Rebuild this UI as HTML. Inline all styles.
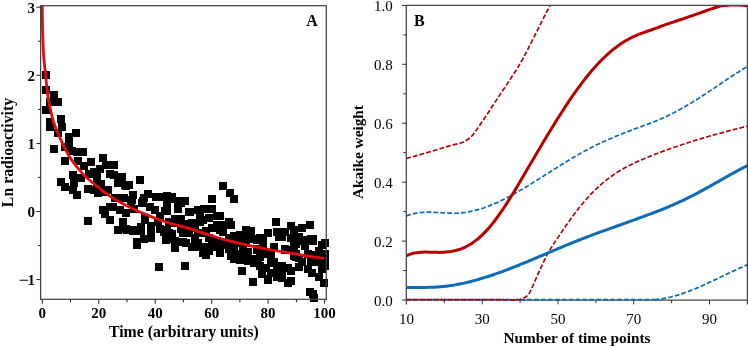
<!DOCTYPE html>
<html><head><meta charset="utf-8"><title>Figure</title><style>html,body{margin:0;padding:0;background:#fff}svg{display:block;will-change:transform}</style></head><body>
<svg width="748" height="347" viewBox="0 0 748 347" font-family="'Liberation Serif', serif">
<rect width="748" height="347" fill="#fff"/>
<g fill="#000" shape-rendering="crispEdges">
<rect x="307.8" y="268.8" width="8" height="8"/>
<rect x="314.7" y="273.1" width="8" height="8"/>
<rect x="319.9" y="279.2" width="8" height="8"/>
<rect x="89.5" y="186.0" width="8" height="8"/>
<rect x="100.0" y="188.0" width="8" height="8"/>
<rect x="109.0" y="203.0" width="8" height="8"/>
<rect x="101.0" y="210.0" width="8" height="8"/>
<rect x="89.5" y="167.5" width="8" height="8"/>
<rect x="97.0" y="180.0" width="8" height="8"/>
<rect x="254.0" y="258.0" width="8" height="8"/>
<rect x="262.0" y="264.0" width="8" height="8"/>
<rect x="270.0" y="258.0" width="8" height="8"/>
<rect x="278.0" y="266.0" width="8" height="8"/>
<rect x="258.0" y="270.0" width="8" height="8"/>
<rect x="42.3" y="71.4" width="8" height="8"/>
<rect x="42.3" y="86.2" width="8" height="8"/>
<rect x="50.0" y="90.8" width="8" height="8"/>
<rect x="53.6" y="98.0" width="8" height="8"/>
<rect x="46.0" y="98.0" width="8" height="8"/>
<rect x="42.2" y="105.8" width="8" height="8"/>
<rect x="57.2" y="114.7" width="8" height="8"/>
<rect x="46.1" y="118.3" width="8" height="8"/>
<rect x="46.3" y="123.0" width="8" height="8"/>
<rect x="57.9" y="122.6" width="8" height="8"/>
<rect x="54.0" y="129.0" width="8" height="8"/>
<rect x="72.0" y="129.2" width="8" height="8"/>
<rect x="64.5" y="132.9" width="8" height="8"/>
<rect x="50.1" y="145.1" width="8" height="8"/>
<rect x="60.7" y="143.2" width="8" height="8"/>
<rect x="65.0" y="140.4" width="8" height="8"/>
<rect x="68.2" y="147.0" width="8" height="8"/>
<rect x="73.0" y="148.3" width="8" height="8"/>
<rect x="79.4" y="148.3" width="8" height="8"/>
<rect x="98.6" y="153.7" width="8" height="8"/>
<rect x="61.2" y="156.7" width="8" height="8"/>
<rect x="74.0" y="157.2" width="8" height="8"/>
<rect x="86.9" y="158.0" width="8" height="8"/>
<rect x="102.4" y="161.2" width="8" height="8"/>
<rect x="109.8" y="161.2" width="8" height="8"/>
<rect x="80.4" y="162.0" width="8" height="8"/>
<rect x="96.3" y="164.8" width="8" height="8"/>
<rect x="68.7" y="170.9" width="8" height="8"/>
<rect x="85.1" y="169.5" width="8" height="8"/>
<rect x="92.6" y="172.3" width="8" height="8"/>
<rect x="105.7" y="169.5" width="8" height="8"/>
<rect x="110.2" y="171.2" width="8" height="8"/>
<rect x="117.9" y="172.5" width="8" height="8"/>
<rect x="57.2" y="178.1" width="8" height="8"/>
<rect x="61.2" y="182.6" width="8" height="8"/>
<rect x="68.7" y="185.9" width="8" height="8"/>
<rect x="73.3" y="190.7" width="8" height="8"/>
<rect x="77.0" y="173.8" width="8" height="8"/>
<rect x="69.7" y="178.6" width="8" height="8"/>
<rect x="93.1" y="178.6" width="8" height="8"/>
<rect x="84.0" y="185.0" width="8" height="8"/>
<rect x="93.6" y="189.0" width="8" height="8"/>
<rect x="103.8" y="185.6" width="8" height="8"/>
<rect x="114.4" y="179.2" width="8" height="8"/>
<rect x="121.9" y="182.4" width="8" height="8"/>
<rect x="83.8" y="217.2" width="8" height="8"/>
<rect x="98.8" y="206.0" width="8" height="8"/>
<rect x="106.1" y="202.8" width="8" height="8"/>
<rect x="106.3" y="215.6" width="8" height="8"/>
<rect x="116.3" y="206.0" width="8" height="8"/>
<rect x="121.6" y="209.2" width="8" height="8"/>
<rect x="118.9" y="217.7" width="8" height="8"/>
<rect x="114.1" y="226.3" width="8" height="8"/>
<rect x="122.7" y="226.3" width="8" height="8"/>
<rect x="131.2" y="226.3" width="8" height="8"/>
<rect x="136.6" y="223.1" width="8" height="8"/>
<rect x="110.9" y="194.2" width="8" height="8"/>
<rect x="119.5" y="194.2" width="8" height="8"/>
<rect x="128.0" y="196.3" width="8" height="8"/>
<rect x="138.7" y="197.4" width="8" height="8"/>
<rect x="130.2" y="204.9" width="8" height="8"/>
<rect x="140.9" y="215.6" width="8" height="8"/>
<rect x="136.2" y="175.6" width="8" height="8"/>
<rect x="121.1" y="181.2" width="8" height="8"/>
<rect x="125.1" y="181.2" width="8" height="8"/>
<rect x="128.8" y="190.8" width="8" height="8"/>
<rect x="118.4" y="194.0" width="8" height="8"/>
<rect x="143.5" y="189.6" width="8" height="8"/>
<rect x="140.3" y="193.5" width="8" height="8"/>
<rect x="152.0" y="193.0" width="8" height="8"/>
<rect x="159.0" y="193.0" width="8" height="8"/>
<rect x="166.8" y="195.1" width="8" height="8"/>
<rect x="181.2" y="197.2" width="8" height="8"/>
<rect x="174.3" y="199.0" width="8" height="8"/>
<rect x="137.9" y="199.2" width="8" height="8"/>
<rect x="162.5" y="200.8" width="8" height="8"/>
<rect x="127.2" y="198.1" width="8" height="8"/>
<rect x="122.2" y="225.4" width="8" height="8"/>
<rect x="128.6" y="227.0" width="8" height="8"/>
<rect x="136.9" y="227.0" width="8" height="8"/>
<rect x="132.6" y="237.7" width="8" height="8"/>
<rect x="132.6" y="240.6" width="8" height="8"/>
<rect x="139.5" y="235.1" width="8" height="8"/>
<rect x="147.3" y="221.7" width="8" height="8"/>
<rect x="147.3" y="229.2" width="8" height="8"/>
<rect x="147.3" y="234.0" width="8" height="8"/>
<rect x="155.9" y="224.9" width="8" height="8"/>
<rect x="160.2" y="228.1" width="8" height="8"/>
<rect x="162.3" y="236.1" width="8" height="8"/>
<rect x="170.9" y="236.7" width="8" height="8"/>
<rect x="170.9" y="244.2" width="8" height="8"/>
<rect x="140.9" y="213.7" width="8" height="8"/>
<rect x="151.0" y="206.0" width="8" height="8"/>
<rect x="156.0" y="212.0" width="8" height="8"/>
<rect x="161.0" y="207.0" width="8" height="8"/>
<rect x="146.0" y="203.0" width="8" height="8"/>
<rect x="154.0" y="218.0" width="8" height="8"/>
<rect x="155.2" y="263.4" width="8" height="8"/>
<rect x="219.0" y="182.2" width="8" height="8"/>
<rect x="226.4" y="189.0" width="8" height="8"/>
<rect x="230.3" y="195.0" width="8" height="8"/>
<rect x="207.7" y="194.6" width="8" height="8"/>
<rect x="271.8" y="218.0" width="8" height="8"/>
<rect x="287.0" y="221.9" width="8" height="8"/>
<rect x="305.5" y="220.8" width="8" height="8"/>
<rect x="297.8" y="224.2" width="8" height="8"/>
<rect x="320.5" y="239.0" width="8" height="8"/>
<rect x="181.2" y="261.9" width="8" height="8"/>
<rect x="238.1" y="266.8" width="8" height="8"/>
<rect x="249.2" y="277.6" width="8" height="8"/>
<rect x="263.8" y="276.4" width="8" height="8"/>
<rect x="305.5" y="288.2" width="8" height="8"/>
<rect x="309.6" y="293.5" width="8" height="8"/>
<rect x="176.6" y="198.5" width="8" height="8"/>
<rect x="185.7" y="207.7" width="8" height="8"/>
<rect x="200.0" y="205.3" width="8" height="8"/>
<rect x="207.9" y="205.3" width="8" height="8"/>
<rect x="215.7" y="211.8" width="8" height="8"/>
<rect x="162.5" y="192.2" width="8" height="8"/>
<rect x="162.5" y="226.0" width="8" height="8"/>
<rect x="162.5" y="207.2" width="8" height="8"/>
<rect x="165.3" y="217.6" width="8" height="8"/>
<rect x="165.3" y="229.1" width="8" height="8"/>
<rect x="165.3" y="193.3" width="8" height="8"/>
<rect x="168.2" y="192.6" width="8" height="8"/>
<rect x="168.2" y="234.8" width="8" height="8"/>
<rect x="168.2" y="229.9" width="8" height="8"/>
<rect x="171.0" y="241.4" width="8" height="8"/>
<rect x="171.0" y="218.5" width="8" height="8"/>
<rect x="171.0" y="214.8" width="8" height="8"/>
<rect x="173.8" y="215.3" width="8" height="8"/>
<rect x="173.8" y="204.8" width="8" height="8"/>
<rect x="173.8" y="197.4" width="8" height="8"/>
<rect x="176.6" y="224.2" width="8" height="8"/>
<rect x="176.6" y="225.2" width="8" height="8"/>
<rect x="176.6" y="214.9" width="8" height="8"/>
<rect x="179.4" y="221.6" width="8" height="8"/>
<rect x="179.4" y="228.7" width="8" height="8"/>
<rect x="179.4" y="237.6" width="8" height="8"/>
<rect x="182.3" y="228.2" width="8" height="8"/>
<rect x="182.3" y="238.5" width="8" height="8"/>
<rect x="182.3" y="220.1" width="8" height="8"/>
<rect x="185.1" y="224.6" width="8" height="8"/>
<rect x="185.1" y="208.1" width="8" height="8"/>
<rect x="185.1" y="229.0" width="8" height="8"/>
<rect x="187.9" y="224.4" width="8" height="8"/>
<rect x="187.9" y="243.2" width="8" height="8"/>
<rect x="187.9" y="219.3" width="8" height="8"/>
<rect x="190.7" y="240.3" width="8" height="8"/>
<rect x="190.7" y="224.4" width="8" height="8"/>
<rect x="190.7" y="234.1" width="8" height="8"/>
<rect x="193.6" y="229.4" width="8" height="8"/>
<rect x="193.6" y="206.0" width="8" height="8"/>
<rect x="193.6" y="239.1" width="8" height="8"/>
<rect x="196.4" y="211.0" width="8" height="8"/>
<rect x="196.4" y="217.5" width="8" height="8"/>
<rect x="196.4" y="242.6" width="8" height="8"/>
<rect x="199.2" y="229.1" width="8" height="8"/>
<rect x="199.2" y="249.1" width="8" height="8"/>
<rect x="199.2" y="216.3" width="8" height="8"/>
<rect x="202.0" y="251.0" width="8" height="8"/>
<rect x="202.0" y="227.3" width="8" height="8"/>
<rect x="202.0" y="243.1" width="8" height="8"/>
<rect x="204.9" y="233.8" width="8" height="8"/>
<rect x="204.9" y="214.3" width="8" height="8"/>
<rect x="204.9" y="247.0" width="8" height="8"/>
<rect x="207.7" y="241.6" width="8" height="8"/>
<rect x="207.7" y="223.7" width="8" height="8"/>
<rect x="207.7" y="243.4" width="8" height="8"/>
<rect x="210.5" y="243.3" width="8" height="8"/>
<rect x="210.5" y="238.5" width="8" height="8"/>
<rect x="210.5" y="236.9" width="8" height="8"/>
<rect x="213.3" y="237.2" width="8" height="8"/>
<rect x="213.3" y="220.8" width="8" height="8"/>
<rect x="213.3" y="212.0" width="8" height="8"/>
<rect x="216.1" y="225.9" width="8" height="8"/>
<rect x="216.1" y="246.7" width="8" height="8"/>
<rect x="216.1" y="249.0" width="8" height="8"/>
<rect x="219.0" y="239.0" width="8" height="8"/>
<rect x="219.0" y="228.2" width="8" height="8"/>
<rect x="219.0" y="220.5" width="8" height="8"/>
<rect x="221.8" y="241.1" width="8" height="8"/>
<rect x="221.8" y="239.7" width="8" height="8"/>
<rect x="221.8" y="238.7" width="8" height="8"/>
<rect x="224.6" y="218.0" width="8" height="8"/>
<rect x="224.6" y="234.3" width="8" height="8"/>
<rect x="224.6" y="244.6" width="8" height="8"/>
<rect x="227.4" y="252.3" width="8" height="8"/>
<rect x="227.4" y="238.6" width="8" height="8"/>
<rect x="227.4" y="221.3" width="8" height="8"/>
<rect x="230.3" y="254.8" width="8" height="8"/>
<rect x="230.3" y="231.9" width="8" height="8"/>
<rect x="230.3" y="243.0" width="8" height="8"/>
<rect x="233.1" y="249.8" width="8" height="8"/>
<rect x="233.1" y="238.7" width="8" height="8"/>
<rect x="233.1" y="252.4" width="8" height="8"/>
<rect x="235.9" y="236.1" width="8" height="8"/>
<rect x="235.9" y="256.4" width="8" height="8"/>
<rect x="235.9" y="230.7" width="8" height="8"/>
<rect x="238.7" y="244.7" width="8" height="8"/>
<rect x="238.7" y="253.1" width="8" height="8"/>
<rect x="238.7" y="242.5" width="8" height="8"/>
<rect x="241.6" y="239.0" width="8" height="8"/>
<rect x="241.6" y="226.3" width="8" height="8"/>
<rect x="241.6" y="230.7" width="8" height="8"/>
<rect x="244.4" y="256.5" width="8" height="8"/>
<rect x="244.4" y="255.1" width="8" height="8"/>
<rect x="244.4" y="247.7" width="8" height="8"/>
<rect x="247.2" y="226.8" width="8" height="8"/>
<rect x="247.2" y="229.0" width="8" height="8"/>
<rect x="247.2" y="230.6" width="8" height="8"/>
<rect x="250.0" y="254.9" width="8" height="8"/>
<rect x="250.0" y="235.4" width="8" height="8"/>
<rect x="250.0" y="259.1" width="8" height="8"/>
<rect x="252.8" y="244.8" width="8" height="8"/>
<rect x="252.8" y="236.0" width="8" height="8"/>
<rect x="252.8" y="245.6" width="8" height="8"/>
<rect x="255.7" y="252.7" width="8" height="8"/>
<rect x="255.7" y="261.8" width="8" height="8"/>
<rect x="255.7" y="233.6" width="8" height="8"/>
<rect x="258.5" y="239.3" width="8" height="8"/>
<rect x="258.5" y="240.5" width="8" height="8"/>
<rect x="258.5" y="234.1" width="8" height="8"/>
<rect x="261.3" y="248.4" width="8" height="8"/>
<rect x="261.3" y="249.1" width="8" height="8"/>
<rect x="261.3" y="250.0" width="8" height="8"/>
<rect x="264.1" y="228.9" width="8" height="8"/>
<rect x="264.1" y="275.0" width="8" height="8"/>
<rect x="264.1" y="249.3" width="8" height="8"/>
<rect x="267.0" y="249.6" width="8" height="8"/>
<rect x="267.0" y="269.4" width="8" height="8"/>
<rect x="267.0" y="257.9" width="8" height="8"/>
<rect x="269.8" y="242.6" width="8" height="8"/>
<rect x="269.8" y="243.6" width="8" height="8"/>
<rect x="269.8" y="258.9" width="8" height="8"/>
<rect x="272.6" y="227.6" width="8" height="8"/>
<rect x="272.6" y="272.5" width="8" height="8"/>
<rect x="272.6" y="265.3" width="8" height="8"/>
<rect x="275.4" y="265.3" width="8" height="8"/>
<rect x="275.4" y="232.6" width="8" height="8"/>
<rect x="275.4" y="232.6" width="8" height="8"/>
<rect x="278.3" y="233.4" width="8" height="8"/>
<rect x="278.3" y="274.2" width="8" height="8"/>
<rect x="278.3" y="262.3" width="8" height="8"/>
<rect x="281.1" y="246.4" width="8" height="8"/>
<rect x="281.1" y="245.4" width="8" height="8"/>
<rect x="281.1" y="227.5" width="8" height="8"/>
<rect x="283.9" y="246.1" width="8" height="8"/>
<rect x="283.9" y="263.5" width="8" height="8"/>
<rect x="283.9" y="279.1" width="8" height="8"/>
<rect x="286.7" y="266.9" width="8" height="8"/>
<rect x="286.7" y="277.3" width="8" height="8"/>
<rect x="286.7" y="234.1" width="8" height="8"/>
<rect x="289.5" y="251.5" width="8" height="8"/>
<rect x="289.5" y="241.8" width="8" height="8"/>
<rect x="289.5" y="226.2" width="8" height="8"/>
<rect x="292.4" y="250.1" width="8" height="8"/>
<rect x="292.4" y="253.4" width="8" height="8"/>
<rect x="292.4" y="240.2" width="8" height="8"/>
<rect x="295.2" y="254.4" width="8" height="8"/>
<rect x="295.2" y="263.0" width="8" height="8"/>
<rect x="295.2" y="233.3" width="8" height="8"/>
<rect x="298.0" y="236.6" width="8" height="8"/>
<rect x="298.0" y="258.2" width="8" height="8"/>
<rect x="298.0" y="236.9" width="8" height="8"/>
<rect x="300.8" y="235.6" width="8" height="8"/>
<rect x="300.8" y="242.4" width="8" height="8"/>
<rect x="300.8" y="239.1" width="8" height="8"/>
<rect x="303.7" y="249.8" width="8" height="8"/>
<rect x="303.7" y="264.6" width="8" height="8"/>
<rect x="303.7" y="235.8" width="8" height="8"/>
<rect x="306.5" y="257.5" width="8" height="8"/>
<rect x="306.5" y="257.3" width="8" height="8"/>
<rect x="306.5" y="235.0" width="8" height="8"/>
<rect x="309.3" y="235.3" width="8" height="8"/>
<rect x="309.3" y="236.7" width="8" height="8"/>
<rect x="309.3" y="289.8" width="8" height="8"/>
<rect x="312.1" y="250.6" width="8" height="8"/>
<rect x="312.1" y="258.0" width="8" height="8"/>
<rect x="312.1" y="255.6" width="8" height="8"/>
<rect x="315.0" y="257.9" width="8" height="8"/>
<rect x="315.0" y="249.2" width="8" height="8"/>
<rect x="315.0" y="246.5" width="8" height="8"/>
<rect x="317.8" y="240.5" width="8" height="8"/>
<rect x="317.8" y="265.3" width="8" height="8"/>
<rect x="317.8" y="255.4" width="8" height="8"/>
<rect x="320.6" y="249.9" width="8" height="8"/>
<rect x="320.6" y="255.7" width="8" height="8"/>
<rect x="320.6" y="261.9" width="8" height="8"/>
</g>
<clipPath id="lc"><rect x="40.6" y="5.7" width="285.7" height="293.6"/></clipPath>
<path d="M42.1,2.0C42.2,2.8 42.1,1.9 42.2,6.6C42.3,11.3 42.4,22.8 42.6,30.0C42.8,37.2 43.1,45.0 43.3,50.0C43.5,55.0 43.7,56.5 44.0,60.0C44.3,63.5 44.7,67.1 45.1,70.7C45.5,74.3 45.9,78.2 46.2,81.4C46.6,84.6 46.9,87.1 47.2,90.0C47.6,92.9 47.8,95.8 48.3,98.6C48.8,101.4 49.3,104.4 49.9,107.1C50.5,109.8 51.2,112.8 51.7,115.0C52.2,117.2 52.2,117.9 52.9,120.0C53.5,122.1 54.5,125.1 55.6,127.8C56.7,130.5 58.0,133.4 59.3,136.3C60.6,139.2 62.0,142.5 63.2,145.0C64.4,147.5 65.2,149.2 66.5,151.5C67.8,153.8 68.9,156.0 70.7,158.6C72.5,161.2 74.8,164.2 77.1,167.1C79.4,169.9 82.1,173.2 84.6,175.7C87.1,178.2 89.8,180.3 92.1,182.3C94.4,184.3 96.2,185.7 98.5,187.5C100.8,189.3 102.8,191.2 105.6,193.2C108.3,195.2 111.9,197.5 115.0,199.4C118.1,201.3 121.2,202.9 124.3,204.6C127.4,206.2 130.6,207.8 133.7,209.3C136.8,210.8 140.0,212.1 143.1,213.4C146.2,214.7 149.3,215.9 152.4,217.1C155.5,218.3 158.7,219.4 161.8,220.5C164.9,221.6 168.2,222.7 171.2,223.6C174.2,224.5 177.1,225.2 180.0,226.0C182.9,226.8 184.1,227.0 188.7,228.4C193.3,229.8 201.2,232.5 207.5,234.4C213.8,236.3 219.9,238.4 226.2,240.1C232.4,241.8 238.8,243.2 245.0,244.6C251.2,246.0 257.5,247.3 263.7,248.5C269.9,249.7 276.1,250.7 282.4,251.8C288.6,252.9 296.6,254.2 301.2,255.0C305.8,255.8 306.1,255.7 310.0,256.3C313.9,256.9 322.1,258.0 324.5,258.4" fill="none" stroke="#e60a0a" stroke-width="2.8" stroke-linejoin="round" clip-path="url(#lc)"/>
<rect x="40.6" y="5.7" width="285.7" height="293.6" fill="none" stroke="#444" stroke-width="1.25"/>
<path d="M42.3,299.3v4.5 M70.5,299.3v3 M98.8,299.3v4.5 M127.0,299.3v3 M155.2,299.3v4.5 M183.4,299.3v3 M211.7,299.3v4.5 M239.9,299.3v3 M268.1,299.3v4.5 M296.4,299.3v3 M324.6,299.3v4.5 M40.6,279.6h-4.2 M40.6,245.6h-2.6 M40.6,211.5h-4.2 M40.6,177.4h-2.6 M40.6,143.4h-4.2 M40.6,109.4h-2.6 M40.6,75.3h-4.2 M40.6,41.2h-2.6 M40.6,7.2h-4.2" stroke="#222" stroke-width="1" fill="none"/>
<g font-size="15" font-weight="bold" fill="#000">
<text x="42.3" y="318.2" text-anchor="middle">0</text>
<text x="98.8" y="318.2" text-anchor="middle">20</text>
<text x="155.2" y="318.2" text-anchor="middle">40</text>
<text x="211.7" y="318.2" text-anchor="middle">60</text>
<text x="268.1" y="318.2" text-anchor="middle">80</text>
<text x="324.6" y="318.2" text-anchor="middle">100</text>
<text x="35.0" y="217.1" text-anchor="end">0</text>
<text x="35.0" y="149.0" text-anchor="end">1</text>
<text x="35.0" y="80.9" text-anchor="end">2</text>
<text x="35.0" y="12.8" text-anchor="end">3</text>
<text y="285.2"><tspan x="18.6" textLength="10.6" lengthAdjust="spacingAndGlyphs">−</tspan><tspan x="27.5">1</tspan></text>
</g>
<text x="312" y="25.9" font-size="16" font-weight="bold" text-anchor="middle">A</text>
<text x="183.8" y="336.7" font-size="15.8" font-weight="bold" text-anchor="middle">Time (arbitrary units)</text>
<text transform="translate(13.3,152.5) rotate(-90)" font-size="15.8" font-weight="bold" text-anchor="middle">Ln radioactivity</text>
<clipPath id="rc"><rect x="406.3" y="5.0" width="342.1" height="296.2"/></clipPath>
<path d="M406.3,300.0H747.4" stroke="#444" stroke-width="1.25" fill="none"/>
<g clip-path="url(#rc)" fill="none">
<path d="M406.3,299.7C421.9,299.7 467.7,299.7 500.0,299.7C532.3,299.7 574.4,299.7 600.0,299.7C625.6,299.7 644.2,299.7 653.7,299.6C663.2,299.6 655.7,299.5 656.7,299.4C657.7,299.3 658.7,299.2 659.7,299.1C660.7,299.0 661.7,298.8 662.7,298.6C663.7,298.4 664.7,298.3 665.7,298.1C666.7,297.9 667.7,297.7 668.7,297.5C669.7,297.3 670.7,297.0 671.7,296.7C672.7,296.4 673.7,296.2 674.7,295.9C675.7,295.6 676.7,295.4 677.7,295.1C678.7,294.8 679.7,294.4 680.7,294.1C681.7,293.8 682.7,293.5 683.7,293.1C684.7,292.8 685.7,292.4 686.7,292.0C687.7,291.6 688.7,291.3 689.7,290.9C690.7,290.5 691.7,290.1 692.7,289.7C693.7,289.3 694.7,288.9 695.7,288.5C696.7,288.1 697.7,287.6 698.7,287.2C699.7,286.8 700.7,286.3 701.7,285.9C702.7,285.4 703.7,285.0 704.7,284.5C705.7,284.0 706.7,283.6 707.7,283.1C708.7,282.6 709.7,282.2 710.7,281.7C711.7,281.2 712.7,280.8 713.7,280.3C714.7,279.8 715.7,279.4 716.7,278.9C717.7,278.4 718.7,278.0 719.7,277.5C720.7,277.0 721.7,276.5 722.7,276.0C723.7,275.5 724.7,275.1 725.7,274.6C726.7,274.1 727.7,273.7 728.7,273.2C729.7,272.7 730.7,272.3 731.7,271.8C732.7,271.3 733.7,270.9 734.7,270.4C735.7,269.9 736.7,269.5 737.7,269.0C738.7,268.5 739.7,268.1 740.7,267.6C741.7,267.2 742.7,266.7 743.7,266.3C744.7,265.9 746.0,265.3 746.7,265.0C747.4,264.7 747.8,264.6 748.0,264.5" stroke="#0c6cba" stroke-width="1.7" stroke-dasharray="4.8 2.1" stroke-dashoffset="3.4"/>
<path d="M406.3,299.7C413.6,299.7 434.4,299.7 450.0,299.7C465.6,299.7 488.7,299.7 500.0,299.7C511.3,299.7 513.6,300.1 517.8,299.7C522.0,299.3 523.4,298.2 525.3,297.2C527.2,296.1 527.9,295.3 529.1,293.4C530.4,291.5 531.3,289.0 532.8,285.9C534.2,282.8 536.1,278.4 537.8,274.6C539.5,270.9 541.2,266.9 542.9,263.4C544.6,259.8 546.2,256.4 547.9,253.3C549.6,250.2 551.6,247.2 552.9,245.1C554.2,243.0 554.9,242.1 555.9,240.6C556.9,239.1 557.9,237.6 558.9,236.1C559.9,234.6 560.9,233.1 561.9,231.6C562.9,230.1 563.9,228.6 564.9,227.2C565.9,225.8 566.9,224.3 567.9,222.9C568.9,221.5 569.9,220.1 570.9,218.7C571.9,217.3 572.9,215.9 573.9,214.6C574.9,213.3 575.9,212.0 576.9,210.7C577.9,209.4 578.9,208.1 579.9,206.8C580.9,205.6 581.9,204.4 582.9,203.2C583.9,202.0 584.9,200.8 585.9,199.7C586.9,198.6 587.9,197.5 588.9,196.4C589.9,195.3 590.9,194.2 591.9,193.2C592.9,192.2 593.9,191.2 594.9,190.2C595.9,189.2 596.9,188.2 597.9,187.3C598.9,186.4 599.9,185.5 600.9,184.6C601.9,183.7 602.9,182.9 603.9,182.1C604.9,181.3 605.9,180.4 606.9,179.6C607.9,178.8 608.9,178.1 609.9,177.4C610.9,176.7 611.9,175.9 612.9,175.2C613.9,174.5 614.9,173.8 615.9,173.2C616.9,172.5 617.9,171.9 618.9,171.3C619.9,170.7 620.9,170.1 621.9,169.5C622.9,168.9 623.9,168.4 624.9,167.8C625.9,167.2 626.9,166.7 627.9,166.2C628.9,165.7 629.9,165.2 630.9,164.7C631.9,164.2 632.9,163.7 633.9,163.2C634.9,162.7 635.9,162.2 636.9,161.8C637.9,161.4 638.9,160.9 639.9,160.5C640.9,160.1 641.9,159.6 642.9,159.2C643.9,158.8 644.9,158.4 645.9,158.0C646.9,157.6 647.9,157.1 648.9,156.7C649.9,156.3 650.9,155.9 651.9,155.5C652.9,155.1 653.9,154.7 654.9,154.3C655.9,153.9 656.9,153.6 657.9,153.2C658.9,152.8 659.9,152.5 660.9,152.1C661.9,151.7 662.9,151.3 663.9,150.9C664.9,150.5 665.9,150.2 666.9,149.8C667.9,149.5 668.9,149.2 669.9,148.8C670.9,148.5 671.9,148.0 672.9,147.7C673.9,147.3 674.9,147.0 675.9,146.7C676.9,146.4 677.9,146.0 678.9,145.7C679.9,145.4 680.9,145.0 681.9,144.7C682.9,144.4 683.9,144.0 684.9,143.7C685.9,143.4 686.9,143.0 687.9,142.7C688.9,142.4 689.9,142.0 690.9,141.7C691.9,141.4 692.9,141.1 693.9,140.8C694.9,140.5 695.9,140.2 696.9,139.9C697.9,139.6 698.9,139.3 699.9,139.0C700.9,138.7 701.9,138.4 702.9,138.1C703.9,137.8 704.9,137.5 705.9,137.2C706.9,136.9 707.9,136.6 708.9,136.3C709.9,136.0 710.9,135.8 711.9,135.5C712.9,135.2 713.9,134.9 714.9,134.6C715.9,134.3 716.9,134.1 717.9,133.8C718.9,133.5 719.9,133.3 720.9,133.0C721.9,132.7 722.9,132.5 723.9,132.2C724.9,131.9 725.9,131.7 726.9,131.4C727.9,131.1 728.9,130.9 729.9,130.6C730.9,130.3 731.9,130.1 732.9,129.8C733.9,129.5 734.9,129.3 735.9,129.0C736.9,128.7 737.9,128.4 738.9,128.2C739.9,127.9 740.9,127.8 741.9,127.5C742.9,127.2 743.9,127.0 744.9,126.7C745.9,126.4 747.4,126.0 747.9,125.9C748.4,125.8 748.0,125.9 748.0,125.9" stroke="#b80000" stroke-width="1.7" stroke-dasharray="4.8 2.1"/>
<path d="M406.3,158.6C407.8,158.2 411.9,157.0 415.0,156.1C418.1,155.2 421.7,154.2 425.0,153.2C428.3,152.2 431.7,151.3 435.0,150.3C438.3,149.3 442.1,148.1 445.0,147.2C447.9,146.3 450.2,145.6 452.7,144.9C455.2,144.2 458.0,143.9 460.2,143.2C462.4,142.5 463.9,141.9 465.8,140.8C467.7,139.7 469.8,138.0 471.4,136.5C473.0,135.0 473.9,133.5 475.2,131.8C476.4,130.1 477.3,128.8 478.9,126.5C480.4,124.2 482.6,121.0 484.5,118.2C486.4,115.4 487.8,113.2 490.1,109.8C492.4,106.3 495.2,101.9 498.1,97.5C501.0,93.1 504.4,88.2 507.5,83.4C510.6,78.7 514.2,73.2 516.8,69.0C519.4,64.8 521.2,61.7 523.0,58.5C524.8,55.3 525.2,54.4 527.5,49.9C529.8,45.4 534.0,37.1 536.8,31.5C539.6,25.9 542.1,20.9 544.3,16.5C546.5,12.1 548.2,9.1 550.2,5.3C552.2,1.5 555.0,-4.1 556.0,-6.0" stroke="#b80000" stroke-width="1.7" stroke-dasharray="4.8 2.1"/>
<path d="M406.3,216.0C406.8,215.8 408.3,215.2 409.3,214.9C410.3,214.6 411.3,214.3 412.3,214.0C413.3,213.7 414.3,213.5 415.3,213.3C416.3,213.1 417.3,212.9 418.3,212.8C419.3,212.7 420.3,212.6 421.3,212.5C422.3,212.4 423.3,212.4 424.3,212.3C425.3,212.2 426.3,212.2 427.3,212.2C428.3,212.2 429.3,212.2 430.3,212.2C431.3,212.2 432.3,212.2 433.3,212.3C434.3,212.4 435.3,212.4 436.3,212.5C437.3,212.6 438.3,212.5 439.3,212.6C440.3,212.7 441.3,212.7 442.3,212.8C443.3,212.9 444.3,212.9 445.3,213.0C446.3,213.1 447.3,213.1 448.3,213.1C449.3,213.1 450.3,213.2 451.3,213.2C452.3,213.2 453.3,213.3 454.3,213.3C455.3,213.3 456.3,213.2 457.3,213.2C458.3,213.1 459.3,213.1 460.3,213.0C461.3,212.9 462.3,212.8 463.3,212.7C464.3,212.6 465.3,212.5 466.3,212.3C467.3,212.1 468.3,211.9 469.3,211.7C470.3,211.5 471.3,211.3 472.3,211.1C473.3,210.9 474.3,210.7 475.3,210.4C476.3,210.2 477.3,209.9 478.3,209.6C479.3,209.3 480.3,209.0 481.3,208.7C482.3,208.4 483.3,208.0 484.3,207.7C485.3,207.3 486.3,207.0 487.3,206.6C488.3,206.2 489.3,205.8 490.3,205.4C491.3,205.0 492.3,204.6 493.3,204.2C494.3,203.8 495.3,203.3 496.3,202.9C497.3,202.5 498.3,202.0 499.3,201.5C500.3,201.0 501.3,200.6 502.3,200.1C503.3,199.6 504.3,199.1 505.3,198.6C506.3,198.1 507.3,197.5 508.3,197.0C509.3,196.5 510.3,195.9 511.3,195.4C512.3,194.9 513.3,194.4 514.3,193.8C515.3,193.2 516.3,192.7 517.3,192.1C518.3,191.5 519.3,190.9 520.3,190.3C521.3,189.7 522.3,189.2 523.3,188.6C524.3,188.0 525.3,187.4 526.3,186.8C527.3,186.2 528.3,185.5 529.3,184.9C530.3,184.3 531.3,183.7 532.3,183.1C533.3,182.5 534.3,181.8 535.3,181.2C536.3,180.6 537.3,179.9 538.3,179.3C539.3,178.7 540.3,178.0 541.3,177.4C542.3,176.8 543.3,176.1 544.3,175.5C545.3,174.9 546.3,174.2 547.3,173.6C548.3,173.0 549.3,172.3 550.3,171.7C551.3,171.1 552.3,170.4 553.3,169.8C554.3,169.2 555.3,168.5 556.3,167.9C557.3,167.3 558.3,166.6 559.3,166.0C560.3,165.4 561.3,164.8 562.3,164.2C563.3,163.6 564.3,162.9 565.3,162.3C566.3,161.7 567.3,161.1 568.3,160.5C569.3,159.9 570.3,159.3 571.3,158.7C572.3,158.1 573.3,157.5 574.3,156.9C575.3,156.3 576.3,155.8 577.3,155.2C578.3,154.6 579.3,154.0 580.3,153.4C581.3,152.8 582.3,152.3 583.3,151.8C584.3,151.3 585.3,150.7 586.3,150.2C587.3,149.7 588.3,149.1 589.3,148.6C590.3,148.1 591.3,147.5 592.3,147.0C593.3,146.5 594.3,146.0 595.3,145.5C596.3,145.0 597.3,144.6 598.3,144.1C599.3,143.6 600.3,143.2 601.3,142.7C602.3,142.2 603.3,141.8 604.3,141.3C605.3,140.9 606.3,140.4 607.3,140.0C608.3,139.6 609.3,139.1 610.3,138.7C611.3,138.3 612.3,137.8 613.3,137.4C614.3,137.0 615.3,136.5 616.3,136.1C617.3,135.7 618.3,135.3 619.3,134.9C620.3,134.5 621.3,134.1 622.3,133.7C623.3,133.3 624.3,132.9 625.3,132.5C626.3,132.1 627.3,131.8 628.3,131.4C629.3,131.0 630.3,130.7 631.3,130.3C632.3,129.9 633.3,129.5 634.3,129.1C635.3,128.7 636.3,128.4 637.3,128.0C638.3,127.6 639.3,127.3 640.3,126.9C641.3,126.5 642.3,126.2 643.3,125.8C644.3,125.4 645.3,125.1 646.3,124.7C647.3,124.3 648.3,124.0 649.3,123.6C650.3,123.2 651.3,122.8 652.3,122.4C653.3,122.0 654.3,121.7 655.3,121.3C656.3,120.9 657.3,120.4 658.3,120.0C659.3,119.6 660.3,119.1 661.3,118.7C662.3,118.3 663.3,117.9 664.3,117.4C665.3,117.0 666.3,116.5 667.3,116.0C668.3,115.5 669.3,115.0 670.3,114.5C671.3,114.0 672.3,113.5 673.3,113.0C674.3,112.5 675.3,111.9 676.3,111.4C677.3,110.9 678.3,110.3 679.3,109.8C680.3,109.2 681.3,108.7 682.3,108.1C683.3,107.5 684.3,107.0 685.3,106.4C686.3,105.8 687.3,105.3 688.3,104.7C689.3,104.1 690.3,103.5 691.3,102.9C692.3,102.3 693.3,101.6 694.3,101.0C695.3,100.4 696.3,99.8 697.3,99.2C698.3,98.6 699.3,98.0 700.3,97.3C701.3,96.6 702.3,95.9 703.3,95.3C704.3,94.7 705.3,94.1 706.3,93.4C707.3,92.8 708.3,92.1 709.3,91.4C710.3,90.7 711.3,90.1 712.3,89.4C713.3,88.7 714.3,88.1 715.3,87.4C716.3,86.7 717.3,86.0 718.3,85.3C719.3,84.6 720.3,84.0 721.3,83.3C722.3,82.6 723.3,82.0 724.3,81.3C725.3,80.6 726.3,79.9 727.3,79.2C728.3,78.5 729.3,77.9 730.3,77.2C731.3,76.5 732.3,76.0 733.3,75.3C734.3,74.6 735.3,73.9 736.3,73.3C737.3,72.7 738.3,72.0 739.3,71.4C740.3,70.8 741.3,70.2 742.3,69.6C743.3,69.0 744.3,68.3 745.3,67.8C746.2,67.2 747.5,66.5 748.0,66.3" stroke="#0c6cba" stroke-width="1.7" stroke-dasharray="4.8 2.1"/>
<path d="M406.5,287.4C407.4,287.4 410.1,287.4 412.0,287.4C413.9,287.4 415.8,287.4 418.0,287.4C420.2,287.4 422.9,287.4 425.1,287.4C427.3,287.4 429.5,287.3 431.0,287.3C432.5,287.3 433.0,287.2 434.0,287.2C435.0,287.2 436.0,287.2 437.0,287.1C438.0,287.0 439.0,286.9 440.0,286.8C441.0,286.7 442.0,286.6 443.0,286.5C444.0,286.4 445.0,286.3 446.0,286.2C447.0,286.1 448.0,285.9 449.0,285.8C450.0,285.7 451.0,285.5 452.0,285.4C453.0,285.2 454.0,285.1 455.0,284.9C456.0,284.7 457.0,284.5 458.0,284.3C459.0,284.1 460.0,283.9 461.0,283.7C462.0,283.5 463.0,283.3 464.0,283.1C465.0,282.9 466.0,282.6 467.0,282.4C468.0,282.2 469.0,281.9 470.0,281.7C471.0,281.4 472.0,281.2 473.0,280.9C474.0,280.6 475.0,280.4 476.0,280.1C477.0,279.8 478.0,279.5 479.0,279.2C480.0,278.9 481.0,278.6 482.0,278.3C483.0,278.0 484.0,277.7 485.0,277.4C486.0,277.1 487.0,276.8 488.0,276.5C489.0,276.2 490.0,275.8 491.0,275.5C492.0,275.2 493.0,274.9 494.0,274.5C495.0,274.1 496.0,273.8 497.0,273.4C498.0,273.0 499.0,272.8 500.0,272.4C501.0,272.0 502.0,271.7 503.0,271.3C504.0,270.9 505.0,270.5 506.0,270.1C507.0,269.7 508.0,269.4 509.0,269.0C510.0,268.6 511.0,268.2 512.0,267.8C513.0,267.4 514.0,267.1 515.0,266.7C516.0,266.3 517.0,265.9 518.0,265.5C519.0,265.1 520.0,264.6 521.0,264.2C522.0,263.8 523.0,263.4 524.0,263.0C525.0,262.6 526.0,262.2 527.0,261.8C528.0,261.4 529.0,260.9 530.0,260.5C531.0,260.1 532.0,259.7 533.0,259.3C534.0,258.9 535.0,258.4 536.0,258.0C537.0,257.6 538.0,257.1 539.0,256.7C540.0,256.3 541.0,255.9 542.0,255.5C543.0,255.1 544.0,254.6 545.0,254.2C546.0,253.8 547.0,253.3 548.0,252.9C549.0,252.5 550.0,252.0 551.0,251.6C552.0,251.2 553.0,250.8 554.0,250.4C555.0,250.0 556.0,249.5 557.0,249.1C558.0,248.7 559.0,248.2 560.0,247.8C561.0,247.4 562.0,247.0 563.0,246.6C564.0,246.2 565.0,245.7 566.0,245.3C567.0,244.9 568.0,244.5 569.0,244.1C570.0,243.7 571.0,243.3 572.0,242.9C573.0,242.5 574.0,242.1 575.0,241.7C576.0,241.3 577.0,240.9 578.0,240.5C579.0,240.1 580.0,239.7 581.0,239.3C582.0,238.9 583.0,238.6 584.0,238.2C585.0,237.8 586.0,237.4 587.0,237.0C588.0,236.6 589.0,236.3 590.0,235.9C591.0,235.5 592.0,235.1 593.0,234.7C594.0,234.3 595.0,234.0 596.0,233.6C597.0,233.2 598.0,232.9 599.0,232.5C600.0,232.1 601.0,231.8 602.0,231.4C603.0,231.0 604.0,230.7 605.0,230.3C606.0,230.0 607.0,229.7 608.0,229.3C609.0,229.0 610.0,228.6 611.0,228.2C612.0,227.8 613.0,227.5 614.0,227.1C615.0,226.7 616.0,226.3 617.0,226.0C618.0,225.7 619.0,225.3 620.0,225.0C621.0,224.7 622.0,224.3 623.0,223.9C624.0,223.5 625.0,223.2 626.0,222.8C627.0,222.4 628.0,222.0 629.0,221.7C630.0,221.3 631.0,221.0 632.0,220.7C633.0,220.3 634.0,220.0 635.0,219.6C636.0,219.2 637.0,218.9 638.0,218.5C639.0,218.1 640.0,217.8 641.0,217.4C642.0,217.0 643.0,216.7 644.0,216.3C645.0,215.9 646.0,215.6 647.0,215.2C648.0,214.8 649.0,214.5 650.0,214.1C651.0,213.7 652.0,213.4 653.0,213.0C654.0,212.6 655.0,212.2 656.0,211.8C657.0,211.4 658.0,211.1 659.0,210.7C660.0,210.3 661.0,209.9 662.0,209.5C663.0,209.1 664.0,208.7 665.0,208.3C666.0,207.9 667.0,207.4 668.0,207.0C669.0,206.6 670.0,206.1 671.0,205.7C672.0,205.3 673.0,204.8 674.0,204.4C675.0,204.0 676.0,203.6 677.0,203.1C678.0,202.6 679.0,202.2 680.0,201.7C681.0,201.2 682.0,200.8 683.0,200.3C684.0,199.8 685.0,199.4 686.0,198.9C687.0,198.4 688.0,197.9 689.0,197.4C690.0,196.9 691.0,196.4 692.0,195.9C693.0,195.4 694.0,194.8 695.0,194.3C696.0,193.8 697.0,193.3 698.0,192.8C699.0,192.3 700.0,191.7 701.0,191.1C702.0,190.5 703.0,190.1 704.0,189.5C705.0,188.9 706.0,188.4 707.0,187.8C708.0,187.2 709.0,186.8 710.0,186.2C711.0,185.6 712.0,185.1 713.0,184.5C714.0,183.9 715.0,183.4 716.0,182.8C717.0,182.2 718.0,181.7 719.0,181.1C720.0,180.5 721.0,180.0 722.0,179.4C723.0,178.8 724.0,178.3 725.0,177.7C726.0,177.1 727.0,176.6 728.0,176.0C729.0,175.4 730.0,174.9 731.0,174.3C732.0,173.8 733.0,173.2 734.0,172.7C735.0,172.1 736.0,171.6 737.0,171.0C738.0,170.4 739.0,169.9 740.0,169.4C741.0,168.9 742.0,168.3 743.0,167.8C744.0,167.3 745.2,166.7 746.0,166.3C746.8,165.9 747.7,165.5 748.0,165.3" stroke="#0c6cba" stroke-width="3"/>
<path d="M406.5,255.6C407.0,255.4 408.5,254.8 409.5,254.4C410.5,254.1 411.5,253.8 412.5,253.5C413.5,253.2 414.5,253.1 415.5,252.9C416.5,252.7 417.5,252.6 418.5,252.5C419.5,252.4 420.5,252.3 421.5,252.2C422.5,252.1 423.5,252.1 424.5,252.1C425.5,252.1 426.5,252.1 427.5,252.1C428.5,252.1 429.5,252.2 430.5,252.2C431.5,252.2 432.5,252.3 433.5,252.3C434.5,252.3 435.5,252.3 436.5,252.3C437.5,252.3 438.5,252.4 439.5,252.4C440.5,252.4 441.5,252.4 442.5,252.3C443.5,252.2 444.5,252.2 445.5,252.1C446.5,252.0 447.5,251.9 448.5,251.8C449.5,251.7 450.5,251.6 451.5,251.4C452.5,251.2 453.5,251.0 454.5,250.8C455.5,250.6 456.5,250.3 457.5,250.0C458.5,249.7 459.5,249.4 460.5,249.1C461.5,248.8 462.5,248.3 463.5,247.9C464.5,247.5 465.5,247.0 466.5,246.5C467.5,246.0 468.5,245.4 469.5,244.8C470.5,244.2 471.5,243.6 472.5,242.9C473.5,242.2 474.5,241.5 475.5,240.7C476.5,239.9 477.5,239.2 478.5,238.3C479.5,237.5 480.5,236.6 481.5,235.6C482.5,234.6 483.5,233.6 484.5,232.6C485.5,231.6 486.5,230.5 487.5,229.4C488.5,228.3 489.5,227.2 490.5,226.0C491.5,224.8 492.5,223.6 493.5,222.3C494.5,221.0 495.5,219.8 496.5,218.4C497.5,217.1 498.5,215.6 499.5,214.2C500.5,212.8 501.5,211.4 502.5,209.9C503.5,208.4 504.5,206.9 505.5,205.3C506.5,203.8 507.5,202.2 508.5,200.6C509.5,199.0 510.5,197.4 511.5,195.8C512.5,194.2 513.5,192.6 514.5,190.9C515.5,189.2 516.5,187.6 517.5,185.9C518.5,184.2 519.5,182.5 520.5,180.8C521.5,179.1 522.5,177.4 523.5,175.7C524.5,174.0 525.5,172.3 526.5,170.6C527.5,168.9 528.5,167.2 529.5,165.5C530.5,163.8 531.5,162.1 532.5,160.4C533.5,158.7 534.5,157.0 535.5,155.3C536.5,153.6 537.5,151.9 538.5,150.2C539.5,148.5 540.5,146.9 541.5,145.2C542.5,143.5 543.5,141.8 544.5,140.1C545.5,138.4 546.5,136.8 547.5,135.1C548.5,133.4 549.5,131.8 550.5,130.2C551.5,128.6 552.5,126.9 553.5,125.3C554.5,123.7 555.5,122.0 556.5,120.4C557.5,118.8 558.5,117.3 559.5,115.7C560.5,114.1 561.5,112.5 562.5,111.0C563.5,109.5 564.5,107.9 565.5,106.4C566.5,104.9 567.5,103.3 568.5,101.8C569.5,100.3 570.5,98.9 571.5,97.4C572.5,96.0 573.5,94.5 574.5,93.1C575.5,91.7 576.5,90.3 577.5,88.9C578.5,87.5 579.5,86.1 580.5,84.8C581.5,83.5 582.5,82.2 583.5,80.9C584.5,79.6 585.5,78.2 586.5,77.0C587.5,75.8 588.5,74.6 589.5,73.4C590.5,72.2 591.5,71.0 592.5,69.8C593.5,68.6 594.5,67.5 595.5,66.4C596.5,65.3 597.5,64.2 598.5,63.2C599.5,62.2 600.5,61.1 601.5,60.1C602.5,59.1 603.5,58.2 604.5,57.2C605.5,56.2 606.5,55.3 607.5,54.4C608.5,53.5 609.5,52.6 610.5,51.7C611.5,50.8 612.5,50.0 613.5,49.2C614.5,48.4 615.5,47.6 616.5,46.9C617.5,46.1 618.5,45.4 619.5,44.7C620.5,44.0 621.5,43.3 622.5,42.7C623.5,42.1 624.5,41.5 625.5,40.9C626.5,40.3 627.5,39.8 628.5,39.2C629.5,38.7 630.5,38.1 631.5,37.6C632.5,37.1 633.5,36.7 634.5,36.2C635.5,35.8 636.5,35.3 637.5,34.9C638.5,34.5 639.5,34.1 640.5,33.7C641.5,33.3 642.5,33.0 643.5,32.6C644.5,32.2 645.5,31.9 646.5,31.5C647.5,31.1 648.5,30.8 649.5,30.5C650.5,30.2 651.5,29.9 652.5,29.5C653.5,29.1 654.5,28.8 655.5,28.4C656.5,28.0 657.5,27.7 658.5,27.3C659.5,26.9 658.8,27.1 661.3,26.2C663.8,25.3 669.6,23.3 673.8,21.9C678.0,20.5 682.1,19.0 686.3,17.6C690.5,16.2 694.6,14.8 698.8,13.3C703.0,11.9 707.6,10.2 711.4,8.9C715.2,7.7 718.3,6.4 721.4,5.8C724.5,5.2 727.2,5.2 730.0,5.1C732.8,5.0 735.5,5.0 738.0,5.1C740.5,5.2 743.3,5.3 745.0,5.5C746.7,5.7 747.5,5.9 748.0,6.0" stroke="#b80000" stroke-width="3"/>
</g>
<path d="M406.3,304.4V5.4H747.4V304.4" fill="none" stroke="#444" stroke-width="1.25"/>
<path d="M444.3,300.0v3.2 M482.2,300.0v4.4 M520.1,300.0v3.2 M558.0,300.0v4.4 M595.9,300.0v3.2 M633.7,300.0v4.4 M671.6,300.0v3.2 M709.5,300.0v4.4 M406.3,300.0h-4.4 M406.3,270.5h-3 M406.3,241.1h-4.4 M406.3,211.6h-3 M406.3,182.2h-4.4 M406.3,152.7h-3 M406.3,123.2h-4.4 M406.3,93.8h-3 M406.3,64.3h-4.4 M406.3,34.9h-3 M406.3,5.4h-4.4" stroke="#333" stroke-width="1" fill="none"/>
<g font-size="15" fill="#000">
<text x="406.4" y="323.6" text-anchor="middle">10</text>
<text x="482.2" y="323.6" text-anchor="middle">30</text>
<text x="558.0" y="323.6" text-anchor="middle">50</text>
<text x="633.7" y="323.6" text-anchor="middle">70</text>
<text x="709.5" y="323.6" text-anchor="middle">90</text>
<text x="392.8" y="305.8" text-anchor="end">0.0</text>
<text x="392.8" y="246.9" text-anchor="end">0.2</text>
<text x="392.8" y="188.0" text-anchor="end">0.4</text>
<text x="392.8" y="129.0" text-anchor="end">0.6</text>
<text x="392.8" y="70.1" text-anchor="end">0.8</text>
<text x="392.8" y="11.2" text-anchor="end">1.0</text>
</g>
<text x="414" y="25.7" font-size="16" font-weight="bold">B</text>
<text x="577" y="343.3" font-size="15.3" font-weight="bold" text-anchor="middle">Number of time points</text>
<text transform="translate(363.2,152) rotate(-90)" font-size="15.3" font-weight="bold" text-anchor="middle">Akaike weight</text>
</svg>
</body></html>
